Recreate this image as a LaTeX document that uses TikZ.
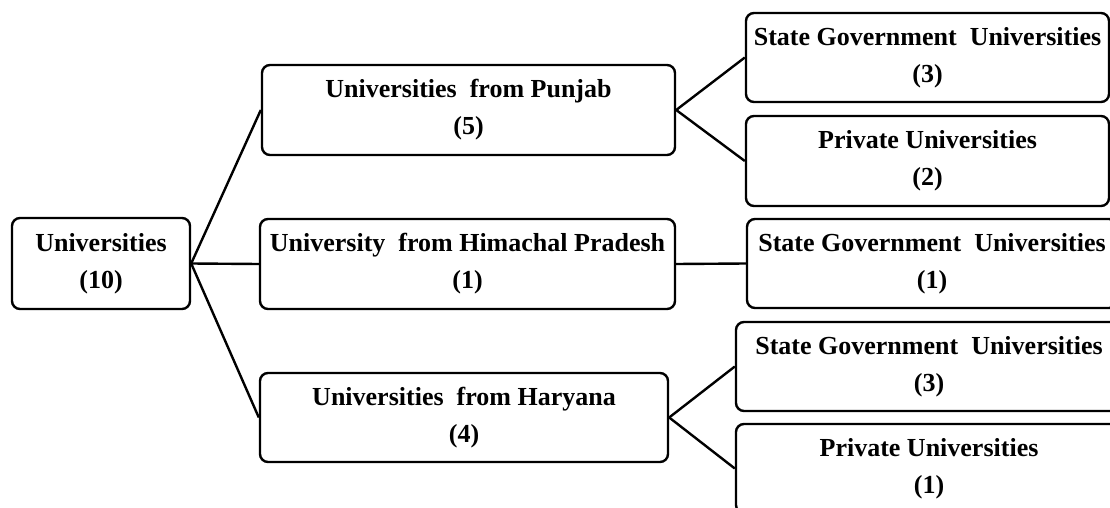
\documentclass[tikz,border=0pt]{standalone}
\usepackage{fontspec}
\setmainfont{Liberation Serif}
\begin{document}
\begin{tikzpicture}[
  x=1pt, y=-1pt,
  box/.style={draw=black, line width=2.4pt, rounded corners=8pt, fill=white,
    rectangle, inner sep=0pt, align=center,
    font=\fontsize{26}{37}\selectfont\bfseries},
  link/.style={draw=black, line width=2.4pt}
]
\useasboundingbox (0,0) rectangle (1110,508);
\clip (0,0) rectangle (1110,508);
\fill[white] (0,0) rectangle (1110,508);

% root
\node[box, minimum width=178pt, minimum height=91pt] (root) at (101,263.5) {Universities\\(10)};

% states
\node[box, minimum width=413pt, minimum height=90pt] (pb) at (468.5,110) {Universities\ \ from Punjab\\(5)};
\node[box, minimum width=415pt, minimum height=90pt] (hp) at (467.5,264) {University\ \ from Himachal Pradesh\\(1)};
\node[box, minimum width=408pt, minimum height=89pt] (hr) at (464,417.5) {Universities\ \ from Haryana\\(4)};

% categories
\node[box, minimum width=363pt, minimum height=89pt] (pbs) at (927.5,57.5) {State Government\ \ Universities\\(3)};
\node[box, minimum width=363pt, minimum height=90pt] (pbp) at (927.5,161) {Private Universities\\(2)};
\node[box, minimum width=370pt, minimum height=89pt] (hps) at (932,263.5) {State Government\ \ Universities\\(1)};
\node[box, minimum width=386pt, minimum height=89pt] (hrs) at (929,366.5) {State Government\ \ Universities\\(3)};
\node[box, minimum width=386pt, minimum height=89pt] (hrp) at (929,468.5) {Private Universities\\(1)};

% connectors
\draw[link] (root.east) -- (pb.west);
\draw[link] (root.east) -- (hp.west);
\draw[link] (root.east) -- (hr.west);
\draw[link] (pb.east) -- (pbs.west);
\draw[link] (pb.east) -- (pbp.west);
\draw[link] (hp.east) -- (hps.west);
\draw[link] (hr.east) -- (hrs.west);
\draw[link] (hr.east) -- (hrp.west);
\end{tikzpicture}
\end{document}
